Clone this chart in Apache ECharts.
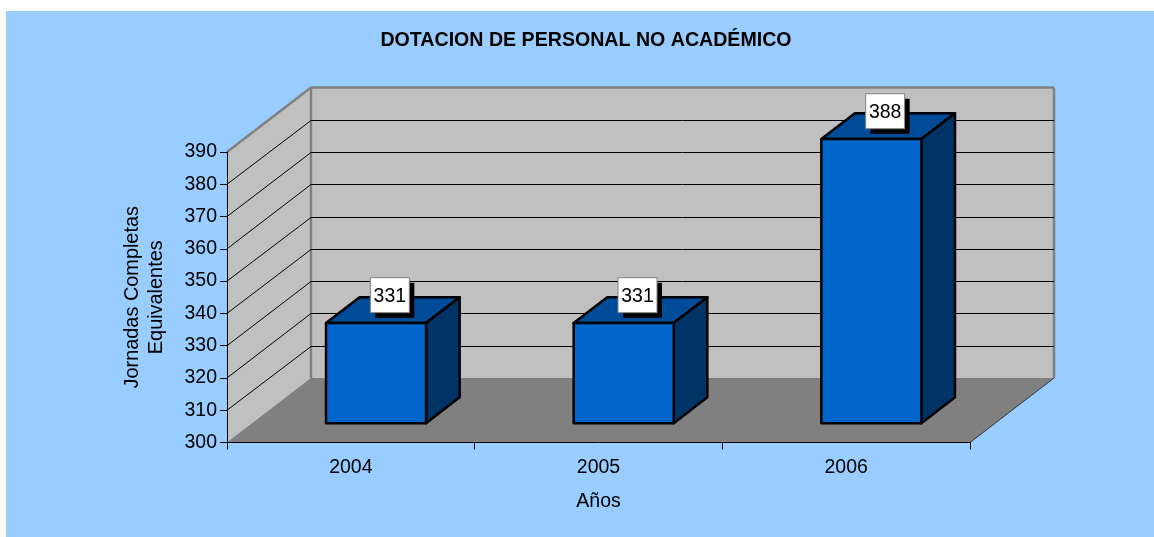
<!DOCTYPE html>
<html>
<head>
<meta charset="utf-8">
<title>Dotacion de personal</title>
<script src="https://cdn.jsdelivr.net/npm/echarts@6/dist/echarts.min.js"></script>
<style>
html,body{margin:0;padding:0;background:#fff;}
#chart{width:1154px;height:537px;}
</style>
</head>
<body>
<div id="chart"></div>
<script>
var years=['2004','2005','2006'];
var personal=[331,331,388];
var yTicks=[310,320,330,340,350,360,370,380];

var FONT='"Liberation Sans", Arial, sans-serif';
// pseudo 3d depth of the box, in px
var DEPTH_X=84, DEPTH_Y=64.5;

var chart=echarts.init(document.getElementById('chart'));

function poly(points,fill,stroke,width){
	return {type:'polygon',shape:{points:points},style:{fill:fill,stroke:stroke||null,lineWidth:width||0,lineJoin:'round'}};
}
function line(x1,y1,x2,y2,stroke,width){
	return {type:'line',shape:{x1:x1,y1:y1,x2:x2,y2:y2},style:{stroke:stroke,lineWidth:width}};
}

function renderWalls(params,api){
	var c=params.coordSys;
	var l=c.x, r=c.x+c.width, t=c.y, b=c.y+c.height;
	var kids=[
		poly([[l,t],[l+DEPTH_X,t-DEPTH_Y],[l+DEPTH_X,b-DEPTH_Y],[l,b]],'#C0C0C0'),
		poly([[l+DEPTH_X,t-DEPTH_Y],[r+DEPTH_X,t-DEPTH_Y],[r+DEPTH_X,b-DEPTH_Y],[l+DEPTH_X,b-DEPTH_Y]],'#C0C0C0'),
		poly([[l,b],[l+DEPTH_X,b-DEPTH_Y],[r+DEPTH_X,b-DEPTH_Y],[r,b]],'#808080'),
		line(l,t,l+DEPTH_X,t-DEPTH_Y,'#808080',2.5),
		line(l+DEPTH_X,t-DEPTH_Y,r+DEPTH_X,t-DEPTH_Y,'#808080',2.5),
		line(l+DEPTH_X,t-DEPTH_Y,l+DEPTH_X,b-DEPTH_Y,'#808080',2.5),
		line(r+DEPTH_X,t-DEPTH_Y,r+DEPTH_X,b-DEPTH_Y,'#808080',2.5),
		line(r,b,r+DEPTH_X,b-DEPTH_Y,'#333',1)
	];
	return {type:'group',children:kids};
}

function renderGridLine(params,api){
	var c=params.coordSys;
	var y=api.coord([0,api.value(0)])[1];
	var l=c.x, r=c.x+c.width;
	// keep the back wall lines on a whole pixel so they stay dark
	var by=Math.round(y-DEPTH_Y)+0.5;
	return {type:'group',children:[
		line(l,y,l+DEPTH_X,by,'#000',1),
		line(l+DEPTH_X,by,r+DEPTH_X,by,'#000',1)
	]};
}

function renderBar(params,api){
	var top=api.coord([api.value(0),api.value(1)]);
	var base=api.coord([api.value(0),300]);
	var w=api.size([1,0])[0]*0.404;
	var dx=DEPTH_X*0.4, dy=DEPTH_Y*0.4;
	// front face sits 30% into the floor
	var x0=top[0]-w/2+DEPTH_X*0.3, x1=x0+w;
	var y0=top[1]-DEPTH_Y*0.3, y1=base[1]-DEPTH_Y*0.3;
	var lx=x0+w/2+dx/2-3, ly=y0-dy/2-15;
	return {type:'group',children:[
		poly([[x0,y0],[x0+dx,y0-dy],[x1+dx,y0-dy],[x1,y0]],'#004C99','#000',2.5),
		poly([[x1,y0],[x1+dx,y0-dy],[x1+dx,y1-dy],[x1,y1]],'#003366','#000',2.5),
		poly([[x0,y0],[x1,y0],[x1,y1],[x0,y1]],'#0066CC','#000',2.5),
		{type:'rect',shape:{x:lx-19.5+5,y:ly-17.5+5,width:39,height:35},style:{fill:'#000'}},
		{type:'rect',shape:{x:lx-19.5,y:ly-17.5,width:39,height:35},style:{fill:'#fff',stroke:'#808080',lineWidth:1}},
		{type:'text',style:{x:lx,y:ly+1,text:String(api.value(1)),fill:'#000',font:'19.5px '+FONT,align:'center',verticalAlign:'middle'}}
	]};
}

chart.setOption({
	animation:false,
	backgroundColor:'#fff',
	graphic:[{type:'rect',z:-1,shape:{x:6,y:11,width:1148,height:526},style:{fill:'#99CCFF'}}],
	title:{text:'DOTACION DE PERSONAL NO ACADÉMICO',left:581,top:26,textAlign:'center',
		textStyle:{fontFamily:FONT,fontSize:19.6,fontWeight:'bold',color:'#000'}},
	grid:{left:227,right:184,top:152,bottom:94.5},
	xAxis:{type:'category',data:years,z:5,
		name:'Años',nameLocation:'middle',nameGap:49,
		nameTextStyle:{fontFamily:FONT,fontSize:19.5,color:'#000'},
		axisLine:{lineStyle:{color:'#000',width:1}},
		axisTick:{show:true,length:7,lineStyle:{color:'#000'}},
		axisLabel:{fontFamily:FONT,fontSize:19.5,color:'#000',margin:15},
		splitLine:{show:false}},
	yAxis:{type:'value',min:300,max:390,interval:10,z:5,
		name:'Jornadas Completas\nEquivalentes',nameLocation:'middle',nameRotate:90,nameGap:58,
		nameTextStyle:{fontFamily:FONT,fontSize:19.9,color:'#000',lineHeight:24},
		axisLine:{show:true,lineStyle:{color:'#000',width:1}},
		axisTick:{show:true,length:7,lineStyle:{color:'#000'}},
		axisLabel:{fontFamily:FONT,fontSize:19.5,color:'#000',margin:10},
		splitLine:{show:false}},
	series:[
		{type:'custom',name:'walls',z:1,silent:true,data:[0],renderItem:renderWalls},
		{type:'custom',name:'grid',z:2,silent:true,data:yTicks,encode:{y:0},renderItem:renderGridLine},
		{type:'custom',name:'personal',z:3,silent:true,
			data:personal.map(function(v,i){return [i,v];}),encode:{x:0,y:1},renderItem:renderBar}
	]
});
</script>
</body>
</html>
